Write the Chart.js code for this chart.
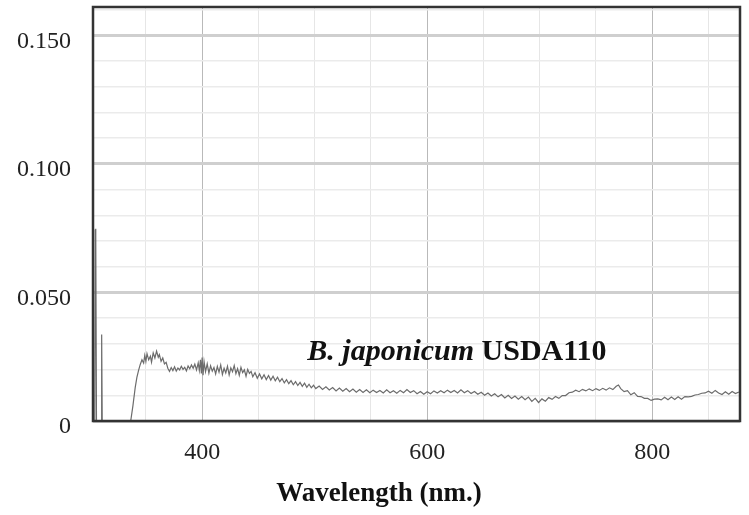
<!DOCTYPE html>
<html>
<head>
<meta charset="utf-8">
<script src="https://cdn.jsdelivr.net/npm/chart.js@4.4.1/dist/chart.umd.min.js"></script>
<style>
  html, body { margin: 0; padding: 0; background: #fff; }
  #wrap { width: 749px; height: 515px; position: relative; }
</style>
</head>
<body>
<div id="wrap"><canvas id="spectrum"></canvas></div>
<script>
// spectrum (nm / absorbance)
const wavelengths = [
  303.5, 304.6, 305.0, 305.3, 305.6, 306.1, 310.2, 310.7, 311.2, 336.5,
  338.5, 340.5, 342.0, 343.5, 345.0, 346.5, 348.0, 349.0, 350.0, 351.0,
  352.5, 354.0, 355.0, 356.5, 358.0, 359.5, 361.0, 362.0, 363.5, 365.0,
  366.5, 368.0, 369.5, 371.0, 372.5, 374.0, 375.5, 377.0, 378.5, 380.0,
  381.5, 383.0, 384.5, 386.0, 387.5, 389.0, 390.5, 392.0, 393.5, 395.0,
  396.5, 397.5, 398.5, 399.3, 400.0, 400.8, 401.7, 403.0, 404.5, 406.0,
  407.5, 409.0, 410.5, 412.0, 413.5, 415.0, 416.5, 418.0, 419.5, 421.0,
  422.5, 424.0, 425.5, 427.0, 428.5, 430.0, 431.5, 433.0, 434.5, 436.0,
  437.5, 439.0, 440.5, 442.0, 443.5, 445.0, 447, 449, 451, 453,
  455, 457, 459, 461, 463, 465, 467, 469, 471, 473,
  475, 477, 479, 481, 483, 485, 487, 489, 491, 493,
  495, 497, 499, 501, 504, 507, 510, 513, 516, 519,
  522, 525, 528, 531, 534, 537, 540, 543, 546, 549,
  552, 555, 558, 561, 564, 567, 570, 573, 576, 579,
  582, 585, 588, 591, 594, 597, 600, 603, 606, 609,
  612, 615, 618, 621, 624, 627, 630, 633, 636, 639,
  642, 645, 648, 651, 654, 657, 660, 663, 666, 669,
  672, 675, 678, 681, 684, 687, 690, 693, 696, 699,
  702, 705, 708, 711, 714, 717, 720, 723, 726, 729,
  732, 735, 738, 741, 744, 747, 750, 753, 756, 759,
  762, 765, 768, 770, 772, 775, 778, 781, 784, 787,
  790, 793, 796, 799, 802, 805, 808, 811, 814, 817,
  820, 823, 826, 829, 832, 835, 838, 841, 844, 847,
  850, 853, 856, 859, 862, 865, 868, 871, 874, 877
];
const absorbance = [
  0, 0, 0.0745, 0.0748, 0.0720, 0, 0, 0.0336, 0, 0,
  0.0060, 0.0130, 0.0170, 0.0197, 0.0220, 0.0238, 0.0225, 0.0255, 0.0232, 0.0262,
  0.0238, 0.0252, 0.0229, 0.0265, 0.0245, 0.0272, 0.0248, 0.0258, 0.0232, 0.0245,
  0.0222, 0.0228, 0.0205, 0.0193, 0.0208, 0.0196, 0.0211, 0.0194, 0.0206, 0.0199,
  0.0213, 0.0201, 0.0209, 0.0195, 0.0214, 0.0203, 0.0218, 0.0205, 0.0221, 0.0199,
  0.0226, 0.0197, 0.0238, 0.0185, 0.0247, 0.0178, 0.0231, 0.0192, 0.0222, 0.0186,
  0.0215, 0.0194, 0.0208, 0.0183, 0.0212, 0.0190, 0.0218, 0.0181, 0.0205, 0.0187,
  0.0213, 0.0179, 0.0207, 0.0192, 0.0216, 0.0184, 0.0204, 0.0178, 0.0209, 0.0188,
  0.0199, 0.0174, 0.0201, 0.0185, 0.0193, 0.0172, 0.0188, 0.0166, 0.0183, 0.0164,
  0.0180, 0.0161, 0.0177, 0.0159, 0.0174, 0.0156, 0.0170, 0.0153, 0.0165, 0.0148,
  0.0161, 0.0145, 0.0157, 0.0141, 0.0153, 0.0138, 0.0150, 0.0135, 0.0147, 0.0131,
  0.0143, 0.0129, 0.0139, 0.0126, 0.0136, 0.0123, 0.0133, 0.0121, 0.0130, 0.0117,
  0.0128, 0.0116, 0.0126, 0.0114, 0.0124, 0.0112, 0.0122, 0.0111, 0.0121, 0.0110,
  0.0120, 0.0111, 0.0119, 0.0109, 0.0121, 0.0110, 0.0118, 0.0108, 0.0119, 0.0110,
  0.0122, 0.0111, 0.0118, 0.0106, 0.0115, 0.0104, 0.0114, 0.0106, 0.0117, 0.0109,
  0.0118, 0.0110, 0.0120, 0.0111, 0.0119, 0.0109, 0.0121, 0.0110, 0.0118, 0.0107,
  0.0115, 0.0104, 0.0112, 0.0100, 0.0109, 0.0097, 0.0106, 0.0094, 0.0103, 0.0090,
  0.0100, 0.0088, 0.0097, 0.0085, 0.0095, 0.0083, 0.0093, 0.0076, 0.0088, 0.0072,
  0.0086, 0.0077, 0.0091, 0.0084, 0.0095, 0.0088, 0.0099, 0.0099, 0.0110, 0.0112,
  0.0120, 0.0114, 0.0123, 0.0117, 0.0125, 0.0118, 0.0126, 0.0119, 0.0127, 0.0120,
  0.0129, 0.0122, 0.0135, 0.0140, 0.0126, 0.0114, 0.0118, 0.0102, 0.0110, 0.0096,
  0.0095, 0.0088, 0.0088, 0.0080, 0.0085, 0.0086, 0.0082, 0.0092, 0.0083, 0.0093,
  0.0084, 0.0094, 0.0085, 0.0095, 0.0094, 0.0096, 0.0101, 0.0103, 0.0108, 0.0109,
  0.0116, 0.0108, 0.0119, 0.0109, 0.0103, 0.0114, 0.0104, 0.0115, 0.0107, 0.0113
];
const xLabelTicks = [400, 600, 800];
const yLabelTicks = [0, 0.05, 0.10, 0.15];

const SERIF = '"Liberation Serif", "Times New Roman", serif';

const points = wavelengths.map((w, i) => ({ x: w, y: absorbance[i] }));

const frameAndText = {
  id: 'frameAndText',
  afterDraw(chart) {
    const { ctx, chartArea: a, scales } = chart;
    ctx.save();
    // plot frame
    ctx.strokeStyle = '#333';
    ctx.lineWidth = 2.5;
    ctx.strokeRect(a.left, a.top, a.right - a.left, a.bottom - a.top);

    // sample label inside the plot
    const tx = scales.x.getPixelForValue(493.5);
    const ty = scales.y.getPixelForValue(0.0238);
    ctx.fillStyle = '#111';
    ctx.textBaseline = 'alphabetic';
    ctx.textAlign = 'left';
    ctx.font = 'italic bold 30px ' + SERIF;
    const part1 = 'B. japonicum ';
    ctx.fillText(part1, tx, ty);
    const w1 = ctx.measureText(part1).width;
    ctx.font = 'bold 30px ' + SERIF;
    ctx.fillText('USDA110', tx + w1, ty);

    // x axis title
    ctx.font = 'bold 27px ' + SERIF;
    ctx.textAlign = 'center';
    ctx.textBaseline = 'middle';
    ctx.fillText('Wavelength (nm.)', a.left + (a.right - a.left) * 0.442, 494);
    ctx.restore();
  }
};

new Chart(document.getElementById('spectrum'), {
  type: 'line',
  data: {
    datasets: [{
      data: points,
      borderColor: '#6c6c6c',
      borderWidth: 1.2,
      pointRadius: 0,
      tension: 0,
      fill: false
    }]
  },
  options: {
    responsive: true,
    maintainAspectRatio: false,
    animation: false,
    layout: { padding: { top: 7, right: 9, left: 0, bottom: 0 } },
    plugins: { legend: { display: false }, tooltip: { enabled: false } },
    scales: {
      x: {
        type: 'linear',
        min: 303,
        max: 878,
        afterFit(s) { s.height = 94; s.paddingLeft = 0; s.paddingRight = 0; },
        border: { display: false },
        grid: {
          drawTicks: false,
          color: c => (c.tick && c.tick.value % 200 === 0) ? '#b9b9b9' : '#e6e6e6',
          lineWidth: 1
        },
        ticks: {
          stepSize: 50,
          includeBounds: false,
          autoSkip: false,
          maxRotation: 0,
          padding: 17,
          color: '#222',
          font: { family: SERIF, size: 24 },
          callback: v => xLabelTicks.includes(v) ? String(v) : ''
        }
      },
      y: {
        min: 0,
        max: 0.161,
        afterFit(s) { s.width = 93; s.paddingTop = 0; s.paddingBottom = 0; },
        border: { display: false },
        grid: {
          drawTicks: false,
          color: c => {
            const k = Math.round(c.tick.value * 100);
            return k % 5 === 0 ? '#cfcfcf' : '#ebebeb';
          },
          lineWidth: c => Math.round(c.tick.value * 100) % 5 === 0 ? 3 : 1.5
        },
        ticks: {
          stepSize: 0.01,
          includeBounds: false,
          autoSkip: false,
          padding: 22,
          labelOffset: 6,
          color: '#222',
          font: { family: SERIF, size: 24 },
          callback: v => {
            const hit = yLabelTicks.find(t => Math.abs(t - v) < 1e-9);
            if (hit === undefined) return '';
            return hit === 0 ? '0' : hit.toFixed(3);
          }
        }
      }
    }
  },
  plugins: [frameAndText]
});
</script>
</body>
</html>
